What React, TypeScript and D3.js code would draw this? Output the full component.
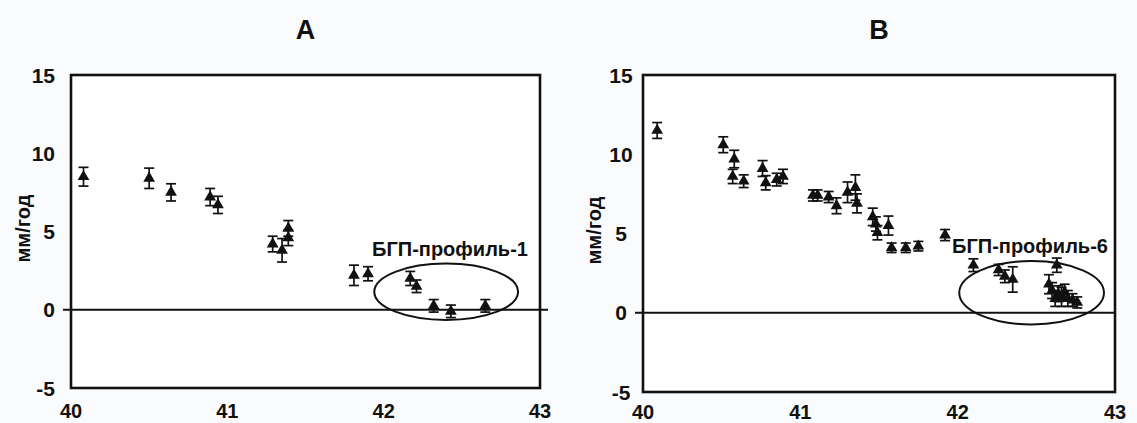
import React from 'react';
import * as d3 from 'd3';

// panel A - latitude, rate, error
const latA = [40.08, 40.5, 40.64, 40.89, 40.94, 41.29, 41.35, 41.39, 41.39, 41.81, 41.9, 42.17, 42.21, 42.32, 42.43, 42.65];
const rateA = [8.5, 8.4, 7.5, 7.2, 6.7, 4.2, 3.8, 5.2, 4.6, 2.2, 2.3, 2.0, 1.5, 0.25, -0.1, 0.25];
const errA = [0.6, 0.65, 0.55, 0.55, 0.55, 0.5, 0.75, 0.5, 0.5, 0.65, 0.45, 0.45, 0.4, 0.4, 0.4, 0.4];

// panel B
const latB = [40.09, 40.51, 40.58, 40.57, 40.64, 40.76, 40.78, 40.85, 40.89, 41.08, 41.11, 41.18, 41.23, 41.3, 41.35, 41.36,
  41.46, 41.48, 41.49, 41.56, 41.58, 41.67, 41.75, 41.92, 42.1, 42.26, 42.3, 42.35, 42.63,
  42.58, 42.6, 42.62, 42.64, 42.66, 42.68, 42.7, 42.73, 42.76];
const rateB = [11.5, 10.6, 9.7, 8.6, 8.3, 9.1, 8.2, 8.4, 8.6, 7.4, 7.4, 7.3, 6.75, 7.6, 7.9, 6.9,
  6.05, 5.6, 5.05, 5.5, 4.1, 4.1, 4.2, 4.9, 3.0, 2.7, 2.3, 2.1, 3.0,
  1.8, 1.4, 0.9, 1.2, 1.0, 1.3, 0.9, 0.8, 0.65];
const errB = [0.5, 0.5, 0.55, 0.45, 0.4, 0.5, 0.45, 0.4, 0.45, 0.35, 0.35, 0.35, 0.5, 0.65, 0.8, 0.6,
  0.55, 0.45, 0.45, 0.6, 0.3, 0.3, 0.3, 0.35, 0.4, 0.35, 0.4, 0.8, 0.45,
  0.6, 0.5, 0.5, 0.5, 0.6, 0.5, 0.5, 0.4, 0.35];

const xTicks = [40, 41, 42, 43];
const yTicks = [-5, 0, 5, 10, 15];
const yLabel = 'мм/год';

const FONT = '"Liberation Sans", Arial, sans-serif';
const INK = '#111';

const tri = d3.symbol(d3.symbolTriangle).size(60)();

function Panel(props) {
  const { title, lat, rate, err, left, right, top, bottom, tickX, yLabX, note, ell } = props;
  const x = d3.scaleLinear().domain([40, 43]).range([left, right]);
  const y = d3.scaleLinear().domain([-5, 15]).range([bottom, top]);
  const pts = lat.map((v, i) => ({ lat: v, rate: rate[i], err: err[i] }));
  const midX = (left + right) / 2;
  return (
    <g>
      <text x={midX} y={39} textAnchor="middle" fontFamily={FONT} fontWeight="bold" fontSize={27} fill={INK}>{title}</text>
      <rect x={left} y={top} width={right - left} height={bottom - top} fill="#fff" stroke={INK} strokeWidth={2.6} />
      <line x1={left - 8} x2={props.zeroEnd} y1={y(0)} y2={y(0)} stroke={INK} strokeWidth={2} />
      {yTicks.map((t) => (
        <text key={t} x={tickX} y={y(t)} dy="0.36em" textAnchor={props.tickAnchor} fontFamily={FONT} fontWeight="bold" fontSize={21} fill={INK}>{t}</text>
      ))}
      {xTicks.map((t) => (
        <text key={t} x={x(t)} y={props.xLabY} textAnchor="middle" fontFamily={FONT} fontWeight="bold" fontSize={20} fill={INK}>{t}</text>
      ))}
      <text transform={`translate(${yLabX},${(top + bottom) / 2 - 3}) rotate(-90)`} textAnchor="middle" fontFamily={FONT} fontWeight="bold" fontSize={20} fill={INK}>{yLabel}</text>
      <ellipse cx={x(ell.cx)} cy={y(ell.cy)} rx={x(40 + ell.rx) - x(40)} ry={y(0) - y(ell.ry)} fill="none" stroke={INK} strokeWidth={2} />
      {pts.map((d, i) => {
        const cx = x(d.lat);
        const y1 = y(d.rate + d.err);
        const y2 = y(d.rate - d.err);
        return (
          <g key={'e' + i} stroke={INK} strokeWidth={1.7}>
            <line x1={cx} x2={cx} y1={y1} y2={y2} />
            <line x1={cx - 5} x2={cx + 5} y1={y1} y2={y1} />
            <line x1={cx - 5} x2={cx + 5} y1={y2} y2={y2} />
          </g>
        );
      })}
      {pts.map((d, i) => (
        <path key={'m' + i} d={tri} transform={`translate(${x(d.lat)},${y(d.rate)})`} fill={INK} />
      ))}
      <text x={note.x} y={note.y} textAnchor="middle" fontFamily={FONT} fontWeight="bold" fontSize={20} fill={INK}>{note.text}</text>
    </g>
  );
}

export default function App() {
  return (
    <svg width={1137} height={423} style={{ position: 'absolute', left: 0, top: 0 }}>
      <rect width={1137} height={423} fill="#fafbfd" />
      <Panel title="A" lat={latA} rate={rateA} err={errA} left={71} right={540} top={75} bottom={388}
        tickX={55} tickAnchor="end" yLabX={30} zeroEnd={548} xLabY={418}
        ell={{ cx: 42.4, cy: 1.15, rx: 0.46, ry: 1.8 }}
        note={{ x: 450, y: 256, text: 'БГП-профиль-1' }} />
      <Panel title="B" lat={latB} rate={rateB} err={errB} left={643} right={1115} top={75} bottom={392}
        tickX={621} tickAnchor="middle" yLabX={601} zeroEnd={1115} xLabY={419}
        ell={{ cx: 42.47, cy: 1.26, rx: 0.46, ry: 2.0 }}
        note={{ x: 1030, y: 253, text: 'БГП-профиль-6' }} />
    </svg>
  );
}
